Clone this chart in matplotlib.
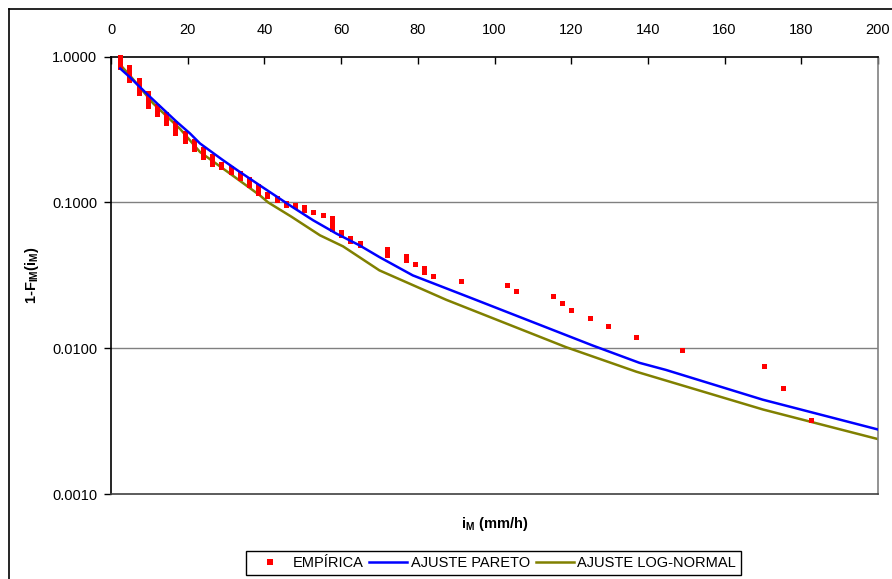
import numpy as np
import matplotlib
matplotlib.use('Agg')
import matplotlib.pyplot as plt
from matplotlib.lines import Line2D
from matplotlib.ticker import FixedLocator, FixedFormatter, NullLocator

plt.rcParams['font.family'] = ['Liberation Sans', 'DejaVu Sans']
plt.rcParams['mathtext.fontset'] = 'custom'
plt.rcParams['mathtext.rm'] = 'Liberation Sans:bold'
plt.rcParams['mathtext.it'] = 'Liberation Sans:bold'
plt.rcParams['mathtext.bf'] = 'Liberation Sans:bold'
plt.rcParams['mathtext.default'] = 'rm'

# empirica: valores empatados aparecem como barras verticais (topo / base)
emp_x = [2.4, 4.8, 7.2, 9.6, 12.0, 14.4, 16.8, 19.2, 21.6, 24.0,
         26.4, 28.8, 31.2, 33.6, 36.0, 38.4, 40.8, 43.2, 45.6, 48.0,
         50.4, 52.8, 55.2, 57.6, 60.0, 62.4, 64.8, 72.0, 76.8, 79.2,
         81.6, 84.0, 91.2, 103.2, 105.6, 115.2, 117.6, 120.0, 124.8, 129.6,
         136.8, 148.8, 170.4, 175.2, 182.4]
emp_hi = [1.0, 0.851, 0.697, 0.561, 0.462, 0.404, 0.349, 0.298, 0.264, 0.232,
          0.207, 0.185, 0.172, 0.159, 0.145, 0.129, 0.114, 0.1077, 0.0989, 0.0958,
          0.0924, 0.0856, 0.0822, 0.078, 0.0632, 0.0568, 0.0528, 0.0483, 0.0426, 0.0379,
          0.0357, 0.0314, 0.0291, 0.0271, 0.0246, 0.0228, 0.0204, 0.01825, 0.01605, 0.0141,
          0.0119, 0.0097, 0.0076, 0.00533, 0.00323]
emp_lo = [0.848, 0.694, 0.562, 0.457, 0.405, 0.350, 0.2985, 0.2655, 0.232, 0.206,
          0.184, 0.174, 0.162, 0.147, 0.132, 0.1155, 0.1106, 0.1039, 0.0964, 0.094,
          0.0884, 0.0856, 0.0817, 0.066, 0.0594, 0.0546, 0.0512, 0.0437, 0.040, 0.0379,
          0.0332, 0.0314, 0.0291, 0.0271, 0.0246, 0.0228, 0.0204, 0.01825, 0.01605, 0.0141,
          0.0119, 0.0097, 0.0076, 0.00533, 0.00323]

# ajustes
pareto_x = [2.4, 5.0, 9.7, 17.1, 20.6, 23.2, 29.2, 33.0, 38.8, 46.6,
            52.7, 58.8, 64.8, 70.0, 78.7, 94.4, 125.6, 137.8, 144.7, 169.9, 200.0]
pareto_y = [0.83, 0.72, 0.545, 0.358, 0.2975, 0.254, 0.195, 0.166, 0.131, 0.0957,
            0.0755, 0.0611, 0.0508, 0.0422, 0.0316, 0.02185, 0.01044, 0.00794, 0.0071, 0.00444, 0.00277]
lognorm_x = [2.4, 5.0, 11.0, 18.0, 23.2, 31.0, 38.8, 41.0, 47.0, 54.5,
             60.5, 70.0, 87.4, 118.7, 137.0, 170.0, 200.0]
lognorm_y = [0.88, 0.74, 0.478, 0.32, 0.222, 0.158, 0.112, 0.1, 0.08, 0.0595,
             0.05, 0.0342, 0.0215, 0.01016, 0.0069, 0.0038, 0.00238]

y_ticks = [0.001, 0.01, 0.1, 1.0]
y_labels = ['0.0010', '0.0100', '0.1000', '1.0000']
x_ticks = list(range(0, 201, 20))

W, H = 892, 579
fig = plt.figure(figsize=(W / 100, H / 100), dpi=100)
ax = fig.add_axes([111 / W, 1 - 494 / H, (878 - 111) / W, (494 - 56.7) / H])

# borda do grafico (estilo Excel)
fig.add_artist(Line2D([9 / W, 9 / W], [0, 1 - 9 / H], color='black', lw=1.2, transform=fig.transFigure))
fig.add_artist(Line2D([9 / W, 1], [1 - 9 / H, 1 - 9 / H], color='black', lw=1.2, transform=fig.transFigure))

ax.set_yscale('log')
ax.set_ylim(0.001, 1.0)
ax.set_xlim(0, 200)

for yv in y_ticks[1:-1]:
    ax.axhline(yv, color='#808080', lw=1.0, zorder=1)

ax.vlines(emp_x, emp_lo, emp_hi, color='red', lw=3.6, zorder=3)
ax.plot(emp_x, emp_hi, 's', color='red', ms=3.6, mew=0, zorder=3, clip_on=False)
ax.plot(emp_x, emp_lo, 's', color='red', ms=3.6, mew=0, zorder=3)
ax.plot(pareto_x, pareto_y, color='#0000FF', lw=1.8, zorder=4)
ax.plot(lognorm_x, lognorm_y, color='#808000', lw=1.8, zorder=2)

ax.yaxis.set_major_locator(FixedLocator(y_ticks))
ax.yaxis.set_major_formatter(FixedFormatter(y_labels))
ax.yaxis.set_minor_locator(NullLocator())
ax.set_xticks(x_ticks)
ax.xaxis.tick_top()
ax.tick_params(axis='x', direction='in', length=5, width=1, pad=14, labelsize=10.5, colors='black')
ax.tick_params(axis='y', direction='out', length=5, width=1, pad=5, labelsize=10.5)

ax.spines['left'].set_color('black')
ax.spines['top'].set_color('black')
ax.spines['bottom'].set_color('#404040')
ax.spines['right'].set_color('#808080')
for s in ax.spines.values():
    s.set_linewidth(1.2)

ax.set_ylabel('1-F$_{IM}$(i$_{M}$)', fontsize=10.5, fontweight='bold')
ax.yaxis.set_label_coords(-0.091, 0.5)
ax.set_xlabel('i$_{M}$ (mm/h)', fontsize=10.5, fontweight='bold')
ax.xaxis.set_label_coords(0.5, -0.048)

handles = [
    Line2D([], [], ls='none', marker='s', color='red', ms=4, mew=0),
    Line2D([], [], color='#0000FF', lw=1.8),
    Line2D([], [], color='#808000', lw=1.8),
]
leg = fig.legend(handles, ['EMPÍRICA', 'AJUSTE PARETO', 'AJUSTE LOG-NORMAL'],
                 loc='center', bbox_to_anchor=(493.5 / W, 1 - 563 / H), ncol=3,
                 fontsize=10.5, frameon=True, fancybox=False, edgecolor='black',
                 framealpha=1, borderpad=0.35, handlelength=2.6, handletextpad=0.25,
                 columnspacing=0.4, borderaxespad=0)
leg.get_frame().set_linewidth(1.0)

fig.savefig('out.png', dpi=100)
